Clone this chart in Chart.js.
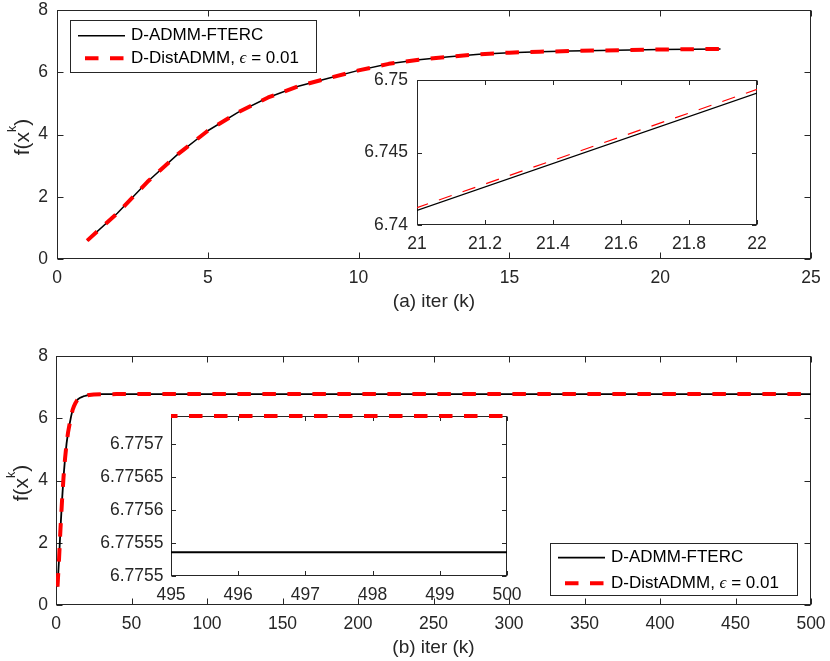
<!DOCTYPE html>
<html lang="en">
<head>
    <meta charset="UTF-8">
    <title>f(x^k) vs iter</title>
    <script src="https://cdn.jsdelivr.net/npm/chart.js"></script>
    <style>
        body { margin: 0; background: #fff; overflow: hidden; }
        #fig { position: relative; width: 830px; height: 661px; overflow: hidden; background: #fff; }
        #fig canvas { position: absolute; }
    </style>
</head>
<body>
<div id="fig">
    <canvas id="mainA" width="839" height="330" style="left:0;top:-14px;width:839px;height:330px"></canvas>
    <canvas id="zoomA" width="428" height="200" style="left:357px;top:56px;width:428px;height:200px"></canvas>
    <canvas id="mainB" width="839" height="330" style="left:0;top:332px;width:839px;height:330px"></canvas>
    <canvas id="zoomB" width="444" height="215" style="left:91px;top:392px;width:444px;height:215px"></canvas>
</div>

<script>
    // series names
    const seriesNames = ['D-ADMM-FTERC', 'D-DistADMM, ϵ = 0.01'];

    // (a) short run, k = 1..22
    const iters = [1, 2, 3, 4, 5, 6, 7, 8, 9, 10, 11, 12, 13, 14, 15, 16, 17, 18, 19, 20, 21, 22];
    const fFterc = [0.59, 1.47, 2.48, 3.36, 4.12, 4.71, 5.19, 5.55, 5.81, 6.06, 6.27, 6.40, 6.50, 6.58,
                    6.63, 6.66, 6.68, 6.70, 6.715, 6.73, 6.7410, 6.7491];
    const fDist = [0.59, 1.47, 2.48, 3.36, 4.12, 4.71, 5.19, 5.55, 5.81, 6.06, 6.27, 6.40, 6.50, 6.58,
                   6.63, 6.66, 6.68, 6.70, 6.715, 6.73, 6.7412, 6.74935];

    // (b) long run continues after k = 22 up to k = 500
    const itersTail = [25, 30, 40, 60, 500];
    const fFtercTail = [6.766, 6.7735, 6.7754, 6.775536, 6.775536];
    const fDistTail = [6.7662, 6.7737, 6.7756, 6.775743, 6.775743];

    // tick values
    const ticksAx = [0, 5, 10, 15, 20, 25];
    const ticksAy = [0, 2, 4, 6, 8];
    const ticksZAx = [21, 21.2, 21.4, 21.6, 21.8, 22];
    const ticksZAy = [6.74, 6.745, 6.75];
    const ticksBx = [0, 50, 100, 150, 200, 250, 300, 350, 400, 450, 500];
    const ticksBy = [0, 2, 4, 6, 8];
    const ticksZBx = [495, 496, 497, 498, 499, 500];
    const ticksZBy = [6.7755, 6.77555, 6.7756, 6.77565, 6.7757];

    const yTitleParts = ['f(x', 'k', ')'];

    Chart.defaults.font.family = '"Liberation Sans", Arial, Helvetica, sans-serif';
    Chart.defaults.font.size = 17.5;
    Chart.defaults.color = '#262626';

    const pts = (xs, ys) => xs.map((x, i) => ({ x: x, y: ys[i] }));

    // white axes background, box and inward ticks on all four sides
    const framePlugin = {
        id: 'frame',
        beforeDraw(chart) {
            const { ctx, chartArea: a } = chart;
            ctx.save();
            ctx.fillStyle = '#fff';
            ctx.fillRect(a.left, a.top, a.width, a.height);
            ctx.restore();
        },
        beforeDatasetsDraw(chart, args, opts) {
            const { ctx, chartArea: a, scales } = chart;
            const L = Math.round(a.left) + 0.5, R = Math.round(a.right) - 0.5;
            const T = Math.round(a.top) + 0.5, B = Math.round(a.bottom) - 0.5;
            const len = opts.tick;
            ctx.save();
            ctx.strokeStyle = '#262626';
            ctx.lineWidth = 1;
            ctx.strokeRect(L, T, R - L, B - T);
            ctx.beginPath();
            scales.x.ticks.forEach(t => {
                const px = Math.round(scales.x.getPixelForValue(t.value)) + 0.5;
                ctx.moveTo(px, B); ctx.lineTo(px, B - len);
                ctx.moveTo(px, T); ctx.lineTo(px, T + len);
            });
            scales.y.ticks.forEach(t => {
                const py = Math.round(scales.y.getPixelForValue(t.value)) + 0.5;
                ctx.moveTo(L, py); ctx.lineTo(L + len, py);
                ctx.moveTo(R, py); ctx.lineTo(R - len, py);
            });
            ctx.stroke();
            ctx.restore();
        }
    };

    // boxed legend inside the axes
    const legendPlugin = {
        id: 'boxLegend',
        afterDatasetsDraw(chart, args, o) {
            const { ctx, chartArea: a } = chart;
            const x0 = Math.round(o.corner === 'tl' ? a.left + o.dx : a.right - o.dx - o.w);
            const y0 = Math.round(o.corner === 'tl' ? a.top + o.dy : a.bottom - o.dy - o.h);
            ctx.save();
            ctx.fillStyle = '#fff';
            ctx.fillRect(x0, y0, o.w, o.h);
            ctx.strokeStyle = '#262626';
            ctx.lineWidth = 1;
            ctx.strokeRect(x0 + 0.5, y0 + 0.5, o.w, o.h);
            chart.data.datasets.forEach((ds, i) => {
                const y = y0 + o.row0 + i * o.rowGap;
                ctx.beginPath();
                ctx.strokeStyle = ds.borderColor;
                ctx.lineWidth = ds.borderWidth;
                ctx.setLineDash(ds.borderDash || []);
                ctx.lineDashOffset = 18;
                ctx.moveTo(x0 + 8, y);
                ctx.lineTo(x0 + 55, y);
                ctx.stroke();
                ctx.setLineDash([]);
                ctx.fillStyle = '#000';
                ctx.textBaseline = 'middle';
                ctx.textAlign = 'left';
                const parts = ds.label.split('ϵ');
                let tx = x0 + 61;
                parts.forEach((p, j) => {
                    if (j > 0) {
                        ctx.font = 'italic 17px "Liberation Serif", serif';
                        ctx.fillText('ϵ', tx, y);
                        tx += ctx.measureText('ϵ').width;
                    }
                    ctx.font = '17px "Liberation Sans", Arial, sans-serif';
                    ctx.fillText(p, tx, y);
                    tx += ctx.measureText(p).width;
                });
            });
            ctx.restore();
        }
    };

    // rotated y label with superscript k
    const yTitlePlugin = {
        id: 'yTitle',
        afterDraw(chart, args, o) {
            const { ctx, chartArea: a } = chart;
            const big = '21px "Liberation Sans", Arial, sans-serif';
            const small = '12.5px "Liberation Sans", Arial, sans-serif';
            ctx.save();
            ctx.translate(a.left - 28, (a.top + a.bottom) / 2);
            ctx.rotate(-Math.PI / 2);
            ctx.fillStyle = '#262626';
            ctx.textBaseline = 'alphabetic';
            ctx.textAlign = 'left';
            ctx.font = big;
            const w1 = ctx.measureText(yTitleParts[0]).width;
            const w3 = ctx.measureText(yTitleParts[2]).width;
            ctx.font = small;
            const w2 = ctx.measureText(yTitleParts[1]).width;
            let x = -(w1 + w2 + w3) / 2 - 2.5;
            ctx.font = big;
            ctx.fillText(yTitleParts[0], x, 0);
            x += w1;
            ctx.font = small;
            ctx.fillText(yTitleParts[1], x, -o.raise);
            x += w2;
            ctx.font = big;
            ctx.fillText(yTitleParts[2], x, 0);
            ctx.restore();
        }
    };

    function makeChart(id, c) {
        return new Chart(document.getElementById(id), {
            type: 'line',
            data: {
                datasets: [
                    { label: seriesNames[0], data: pts(c.xs, c.y1), borderColor: '#000000',
                      borderWidth: c.lw[0], order: 2, clip: c.clip },
                    { label: seriesNames[1], data: pts(c.xs, c.y2), borderColor: '#ff0000',
                      borderWidth: c.lw[1], borderDash: [13.5, 11.5], order: 1, clip: c.clip }
                ]
            },
            options: {
                responsive: false,
                animation: false,
                events: [],
                layout: { padding: { left: 0, top: 24, right: 28, bottom: 0 } },
                elements: {
                    point: { radius: 0 },
                    line: { tension: 0, borderCapStyle: 'butt', borderJoinStyle: 'round' }
                },
                plugins: {
                    legend: { display: false },
                    tooltip: { enabled: false },
                    frame: { tick: c.tick },
                    boxLegend: c.legend || false,
                    yTitle: c.yTitle || false
                },
                scales: {
                    x: {
                        type: 'linear', min: c.xr[0], max: c.xr[1],
                        grid: { display: false, drawTicks: false },
                        border: { display: false },
                        ticks: { padding: 8.5, autoSkip: false, maxRotation: 0, callback: v => String(v) },
                        afterBuildTicks: s => { s.ticks = c.xt.map(v => ({ value: v })); },
                        afterFit: s => { s.height = c.xh; },
                        title: c.xTitle ? { display: true, text: c.xTitle, font: { size: 19 }, color: '#262626',
                                            padding: { top: 0, bottom: 2.6 } } : { display: false }
                    },
                    y: {
                        type: 'linear', min: c.yr[0], max: c.yr[1],
                        grid: { display: false, drawTicks: false },
                        border: { display: false },
                        ticks: { padding: c.yPad, autoSkip: false, callback: v => String(v) },
                        afterBuildTicks: s => { s.ticks = c.yt.map(v => ({ value: v })); },
                        afterFit: s => { s.width = c.yw; }
                    }
                }
            },
            plugins: [framePlugin, legendPlugin, yTitlePlugin]
        });
    }

    const longIters = iters.concat(itersTail);
    const longFterc = fFterc.concat(fFtercTail);
    const longDist = fDist.concat(fDistTail);

    // (a)
    makeChart('mainA', {
        xs: iters, y1: fFterc, y2: fDist, lw: [1.5, 4], clip: undefined,
        xr: [0, 25], yr: [0, 8], xt: ticksAx, yt: ticksAy,
        xh: 57, yw: 57, yPad: 9, tick: 6,
        xTitle: '(a) iter (k)',
        legend: { corner: 'tl', dx: 13, dy: 10, w: 246, h: 52, row0: 15.7, rowGap: 22.6 },
        yTitle: { raise: 13 }
    });
    makeChart('zoomA', {
        xs: iters, y1: fFterc, y2: fDist, lw: [1.2, 1.2], clip: { left: 0, right: 0, top: 0, bottom: 0 },
        xr: [21, 22], yr: [6.74, 6.75], xt: ticksZAx, yt: ticksZAy,
        xh: 31, yw: 60, yPad: 9, tick: 4.5
    });

    // (b)
    makeChart('mainB', {
        xs: longIters, y1: longFterc, y2: longDist, lw: [1.8, 4], clip: undefined,
        xr: [0, 500], yr: [0, 8], xt: ticksBx, yt: ticksBy,
        xh: 57, yw: 56, yPad: 8, tick: 6,
        xTitle: '(b) iter (k)',
        legend: { corner: 'br', dx: 14, dy: 10, w: 247, h: 52, row0: 14.7, rowGap: 25.5 },
        yTitle: { raise: 13 }
    });
    makeChart('zoomB', {
        xs: longIters, y1: longFterc, y2: longDist, lw: [2, 4], clip: { left: 0, right: 0, top: 4, bottom: 0 },
        xr: [495, 500], yr: [6.7755, 6.775743], xt: ticksZBx, yt: ticksZBy,
        xh: 31, yw: 80, yPad: 7.5, tick: 4.5
    });
</script>
</body>
</html>
